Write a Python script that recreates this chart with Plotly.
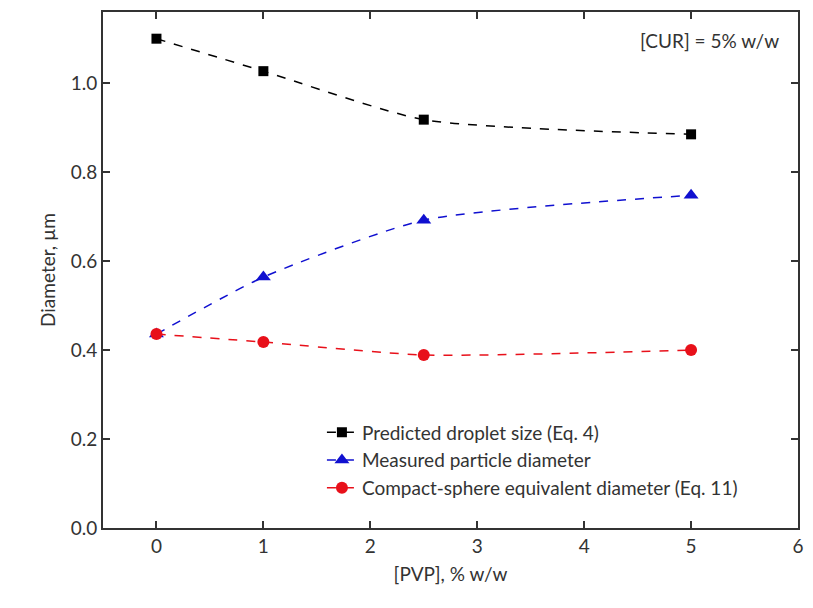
import plotly.graph_objects as go

pvp = [0, 1, 2.5, 5]
predicted = [1.10, 1.027, 0.918, 0.885]
measured = [0.436, 0.564, 0.692, 0.748]
compact = [0.436, 0.418, 0.389, 0.400]

names = ["Predicted droplet size (Eq. 4)", "Measured particle diameter",
         "Compact-sphere equivalent diameter (Eq. 11)"]
colors = ["#000000", "#1010d0", "#e8101a"]
symbols = ["square", "triangle-up", "circle"]
sizes = [10, 13, 12]

fig = go.Figure()
for y, n, c, s, sz in zip([predicted, measured, compact], names, colors, symbols, sizes):
    fig.add_trace(go.Scatter(
        x=pvp, y=y, name=n, mode="lines+markers",
        line=dict(color=c, width=1.5, dash="dash", shape="spline", smoothing=0.6),
        marker=dict(symbol=s, size=sz, color=c),
    ))

font = "Lato, Open Sans, sans-serif"
axis_common = dict(showline=True, linecolor="#333", linewidth=2, mirror="ticks",
                   ticks="inside", ticklen=7, tickwidth=2, tickcolor="#333",
                   showgrid=False, zeroline=False,
                   tickfont=dict(size=19, color="#333", family=font))
fig.update_layout(
    width=813, height=608,
    margin=dict(l=103, r=9, t=12, b=80),
    paper_bgcolor="white", plot_bgcolor="white",
    font=dict(family=font, color="#333"),
    xaxis=dict(range=[-0.5, 6], tickvals=[0, 1, 2, 3, 4, 5, 6],
               title=dict(text="[PVP], % w/w", font=dict(size=19), standoff=12),
               **axis_common),
    yaxis=dict(range=[0, 1.16], tickvals=[0, 0.2, 0.4, 0.6, 0.8, 1.0],
               tickformat=".1f",
               title=dict(text="Diameter, µm", font=dict(size=19), standoff=10),
               **axis_common),
    legend=dict(x=0.315, y=0.222, xanchor="left", yanchor="top",
                bgcolor="rgba(0,0,0,0)", font=dict(size=19, color="#333"),
                tracegroupgap=0, itemwidth=30),
    showlegend=True,
)
fig.add_annotation(text="[CUR] = 5% w/w", xref="paper", yref="paper",
                   x=0.975, y=0.945, xanchor="right", yanchor="middle",
                   showarrow=False, font=dict(size=19, color="#333", family=font))

fig.write_html("out.html")
